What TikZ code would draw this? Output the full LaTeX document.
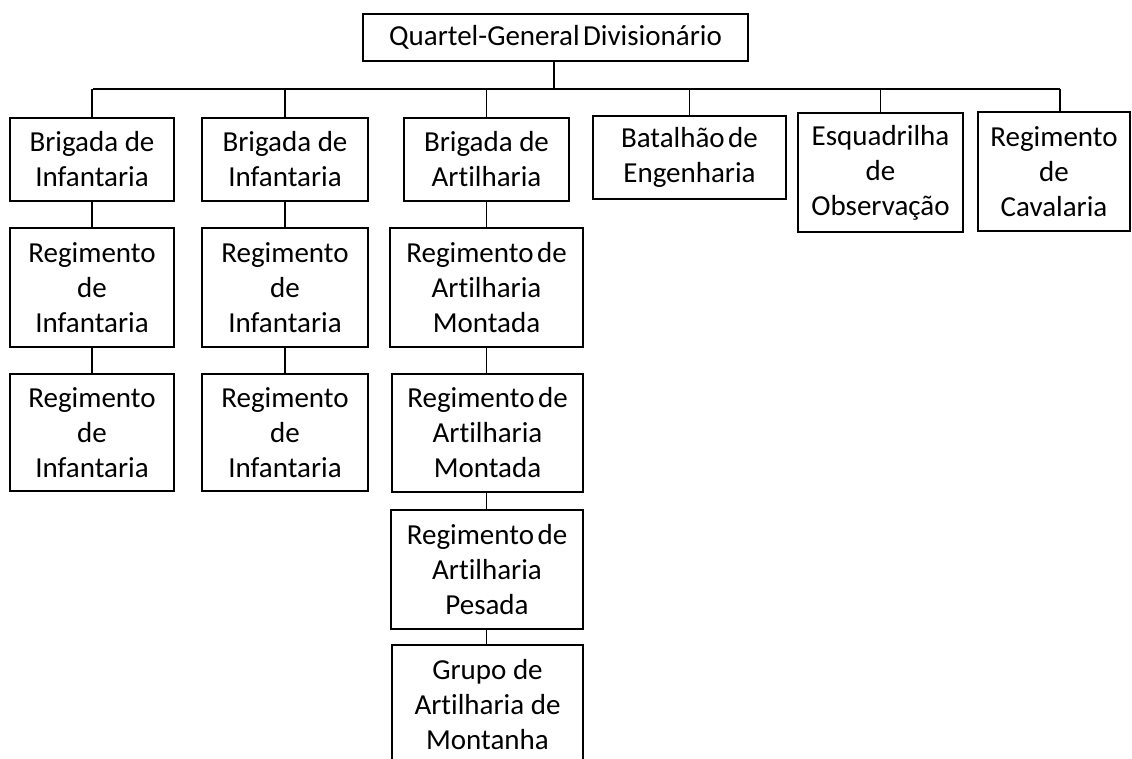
\documentclass[tikz,border=0pt]{standalone}
\usepackage{fontspec}
\setmainfont{Carlito}[Ligatures=NoCommon]
\begin{document}
\begin{tikzpicture}[x=1pt,y=-1pt,
  orgbox/.style={draw=black, line width=1.3pt, fill=white, align=center, inner sep=0pt,
    font=\fontsize{29}{35}\selectfont},
  link/.style={draw=black, line width=1.3pt}]
\useasboundingbox[fill=white] (0,0) rectangle (1132,758);
% top
\node[orgbox, minimum width=385pt, minimum height=47pt] (top) at (555.5,37.5) {Quartel-General\hspace{0.12em}Divisionário};
% brigades and direct units
\node[orgbox, minimum width=164pt, minimum height=83pt] (b1) at (92,159.5) {Brigada de\\Infantaria};
\node[orgbox, minimum width=166pt, minimum height=83pt] (b2) at (285,159.5) {Brigada de\\Infantaria};
\node[orgbox, minimum width=165pt, minimum height=83pt] (b3) at (486.5,159.5) {Brigada de\\Artilharia};
\node[orgbox, minimum width=193pt, minimum height=83pt] (bat) at (689.5,157.5) {Batalhão\hspace{0.12em}de\\Engenharia};
\node[orgbox, minimum width=165pt, minimum height=119pt] (esq) at (880.5,172.5) {Esquadrilha\\de\\Observação};
\node[orgbox, minimum width=152pt, minimum height=119pt] (cav) at (1054,171.5) {Regimento\\de\\Cavalaria};
% infantry regiments
\node[orgbox, minimum width=164pt, minimum height=119pt] (i11) at (92,287.5) {Regimento\\de\\Infantaria};
\node[orgbox, minimum width=164pt, minimum height=117pt] (i12) at (92,432.5) {Regimento\\de\\Infantaria};
\node[orgbox, minimum width=166pt, minimum height=119pt] (i21) at (285,287.5) {Regimento\\de\\Infantaria};
\node[orgbox, minimum width=166pt, minimum height=117pt] (i22) at (285,432.5) {Regimento\\de\\Infantaria};
% artillery column
\node[orgbox, minimum width=193pt, minimum height=119pt] (a1) at (486.5,287.5) {Regimento\hspace{0.12em}de\\Artilharia\\Montada};
\node[orgbox, minimum width=191pt, minimum height=118pt] (a2) at (487.5,433) {Regimento\hspace{0.12em}de\\Artilharia\\Montada};
\node[orgbox, minimum width=192pt, minimum height=119pt] (a3) at (487,569.5) {Regimento\hspace{0.12em}de\\Artilharia\\Pesada};
\node[orgbox, minimum width=191pt, minimum height=120pt] (a4) at (487.5,705) {Grupo de\\Artilharia de\\Montanha};
% bus
\coordinate (busL) at (93,89);
\coordinate (busR) at (1060,89);
\coordinate (busC) at (554,89);
\draw[link] ([xshift=-1.5pt]top.south) -- (busC);
\draw[link] (busL) -- (busR);
\draw[link] (b1.north) -- (b1.north |- busL);
\draw[link] (b2.north) -- (b2.north |- busL);
\draw[link] (b3.north) -- (b3.north |- busL);
\draw[link] (bat.north) -- (bat.north |- busL);
\draw[link] (esq.north) -- (esq.north |- busL);
\draw[link] (cav.north -| busR) -- (busR);
% chains
\draw[link] (b1.south) -- (i11.north);
\draw[link] (i11.south) -- (i12.north);
\draw[link] (b2.south) -- (i21.north);
\draw[link] (i21.south) -- (i22.north);
\draw[link] (b3.south) -- (b3.south |- a1.north);
\draw[link] (a1.south -| b3.south) -- (b3.south |- a2.north);
\draw[link] (a2.south -| b3.south) -- (b3.south |- a3.north);
\draw[link] (a3.south -| b3.south) -- (b3.south |- a4.north);
\end{tikzpicture}
\end{document}
